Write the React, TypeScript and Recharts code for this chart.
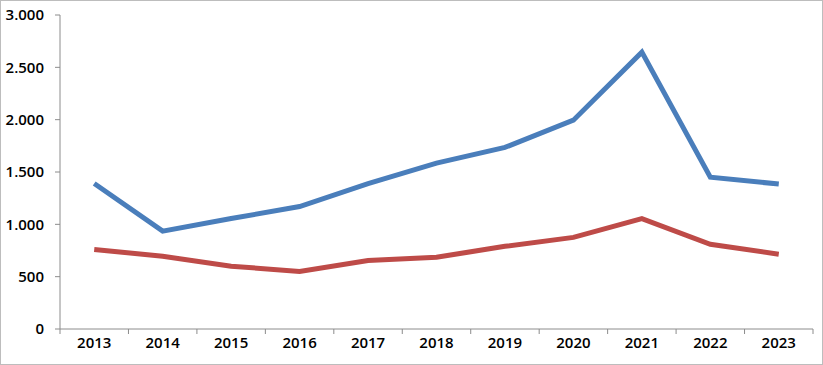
import { LineChart, Line, XAxis, YAxis } from 'recharts';

const years = ['2013', '2014', '2015', '2016', '2017', '2018', '2019', '2020', '2021', '2022', '2023'];
const blueValues = [1390, 935, 1055, 1170, 1390, 1585, 1735, 1995, 2645, 1450, 1385];
const redValues = [760, 695, 600, 550, 655, 685, 790, 875, 1055, 810, 715];
const yTicks = [0, 500, 1000, 1500, 2000, 2500, 3000];

const data = years.map((year, i) => ({ year, blue: blueValues[i], red: redValues[i] }));

const WIDTH = 823;
const HEIGHT = 365;
const PLOT_LEFT = 60;
const PLOT_RIGHT = 10;
const AXIS_COLOR = '#8c8c8c';
const FONT = '"Open Sans", sans-serif';

// thousands separator with a dot, like 3.000
const formatThousands = (v: number) => String(v).replace(/\B(?=(\d{3})+(?!\d))/g, '.');

const bandWidth = (WIDTH - PLOT_LEFT - PLOT_RIGHT) / years.length;

// Excel-style category tick: label in the middle, tick marks on the band edges
const CategoryTick = ({ x, y, payload, index }: any) => {
    const left = x - bandWidth / 2;
    const right = x + bandWidth / 2;
    return (
        <g>
            <line x1={left} y1={y - 8} x2={left} y2={y - 3} stroke={AXIS_COLOR} />
            {index === years.length - 1 && (
                <line x1={right} y1={y - 8} x2={right} y2={y - 3} stroke={AXIS_COLOR} />
            )}
            <text x={x} y={y + 11} textAnchor="middle" fontSize={15} fontWeight={600} fill="#000" fontFamily={FONT}>
                {payload.value}
            </text>
        </g>
    );
};

export default function App() {
    return (
        <div
            style={{
                position: 'absolute',
                left: 0,
                top: 0,
                width: WIDTH,
                height: HEIGHT,
                boxSizing: 'border-box',
                border: '1px solid #bdbdbd',
                background: '#fff',
            }}
        >
            <LineChart
                width={WIDTH - 2}
                height={HEIGHT - 2}
                data={data}
                margin={{ top: 14, right: PLOT_RIGHT - 1, bottom: 0, left: 0 }}
            >
                <XAxis
                    dataKey="year"
                    height={35}
                    stroke={AXIS_COLOR}
                    tickLine={false}
                    tick={<CategoryTick />}
                    interval={0}
                    padding={{ left: bandWidth / 2, right: bandWidth / 2 }}
                />
                <YAxis
                    width={PLOT_LEFT - 1}
                    domain={[0, 3000]}
                    ticks={yTicks}
                    interval={0}
                    stroke={AXIS_COLOR}
                    tickSize={5}
                    tickMargin={11}
                    tickFormatter={formatThousands}
                    tick={{ fill: '#000', fontSize: 15, fontWeight: 600, fontFamily: FONT }}
                />
                <Line
                    type="linear"
                    dataKey="blue"
                    stroke="#4a7ebb"
                    strokeWidth={5}
                    dot={false}
                    isAnimationActive={false}
                />
                <Line
                    type="linear"
                    dataKey="red"
                    stroke="#be4b48"
                    strokeWidth={5}
                    dot={false}
                    isAnimationActive={false}
                />
            </LineChart>
        </div>
    );
}
